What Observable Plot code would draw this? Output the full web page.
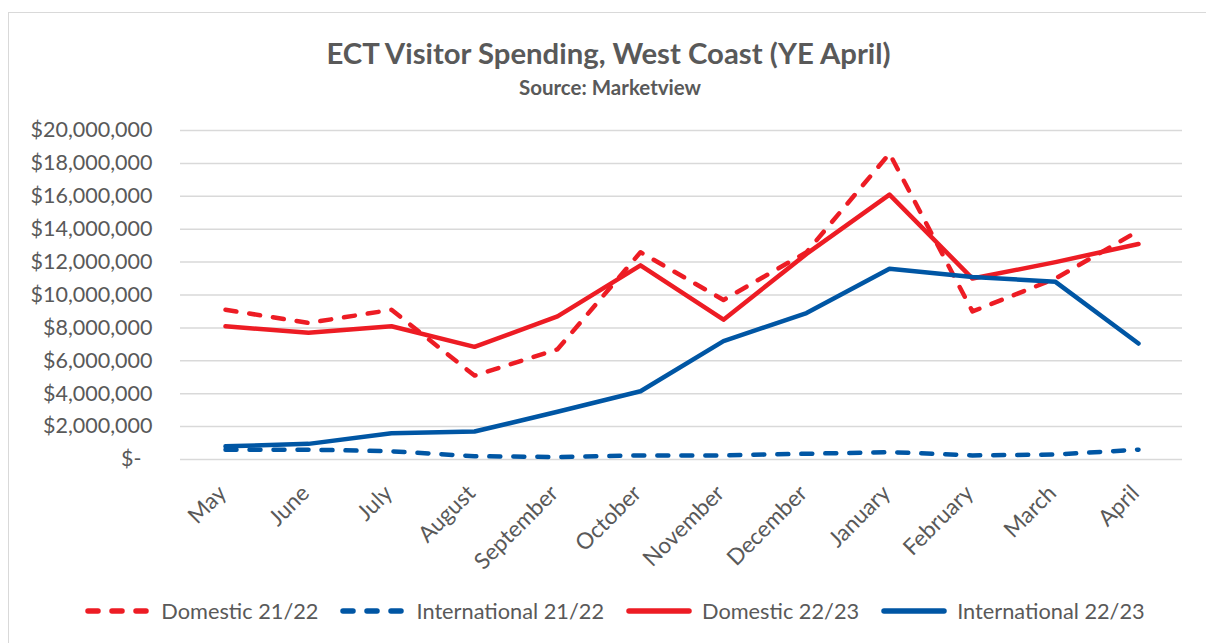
<!DOCTYPE html>
<html>
<head>
<meta charset="utf-8">
<script src="https://cdn.jsdelivr.net/npm/d3@7"></script>
<script src="https://cdn.jsdelivr.net/npm/@observablehq/plot@0.6"></script>
<style>
  html, body { margin: 0; padding: 0; background: #fff; }
  body { font-family: Lato, "Open Sans", sans-serif; color: #595959; }
  #page { position: relative; width: 1206px; height: 643px; overflow: hidden; }
  #frame { position: absolute; left: 8px; top: 12px; width: 1220px; height: 660px; border: 1.5px solid #d9d9d9; box-sizing: border-box; }
  #title { position: absolute; left: 0; top: 34px; width: 1217px; text-align: center; font-weight: 700; font-size: 29.3px; line-height: 38px; }
  #subtitle { position: absolute; left: 0; top: 75px; width: 1220px; text-align: center; font-weight: 700; font-size: 20.5px; line-height: 24px; }
  #chart { position: absolute; left: 0; top: 0; }
  #legend { position: absolute; left: 0; top: 596px; width: 1206px; display: flex; justify-content: center; align-items: center; font-size: 21.75px; line-height: 30px; padding-left: 24px; box-sizing: border-box; }
  .item { display: flex; align-items: center; margin: 0 11px; }
  .item svg { margin-right: 10px; }
</style>
</head>
<body>
<div id="page">
  <div id="frame"></div>
  <div id="title">ECT Visitor Spending, West Coast (YE April)</div>
  <div id="subtitle">Source: Marketview</div>
  <div id="chart"></div>
  <div id="legend"></div>
</div>
<script>
const months = ["May","June","July","August","September","October","November","December","January","February","March","April"];
const domestic2122 = [9100000, 8300000, 9100000, 5100000, 6700000, 12600000, 9700000, 12600000, 18600000, 9000000, 11000000, 13900000];
const international2122 = [600000, 600000, 500000, 200000, 150000, 250000, 250000, 350000, 450000, 250000, 300000, 600000];
const domestic2223 = [8100000, 7700000, 8100000, 6850000, 8700000, 11800000, 8500000, 12500000, 16100000, 11000000, 12000000, 13100000];
const international2223 = [800000, 950000, 1600000, 1700000, 2900000, 4150000, 7200000, 8900000, 11600000, 11100000, 10800000, 7050000];
const seriesNames = ["Domestic 21/22", "International 21/22", "Domestic 22/23", "International 22/23"];
const yTicks = [0, 2000000, 4000000, 6000000, 8000000, 10000000, 12000000, 14000000, 16000000, 18000000, 20000000];

const RED = "#ED1C24", BLUE = "#0056A4", DASH = "11,13";
const series = [
  {name: seriesNames[0], values: domestic2122, color: RED, dash: DASH},
  {name: seriesNames[1], values: international2122, color: BLUE, dash: DASH},
  {name: seriesNames[2], values: domestic2223, color: RED, dash: null},
  {name: seriesNames[3], values: international2223, color: BLUE, dash: null}
];
const fmt = d3.format(",");
const tickFormat = d => d === 0 ? "$-\u00a0\u00a0" : "$" + fmt(d);

const lineMarks = series.map(s => Plot.line(
  months.map((m, i) => ({month: m, value: s.values[i]})),
  {x: "month", y: "value", stroke: s.color, strokeWidth: 4.5, strokeDasharray: s.dash || undefined,
   strokeLinecap: "round", strokeLinejoin: "round"}
));

const chart = Plot.plot({
  width: 1206, height: 580,
  marginTop: 130, marginBottom: 121, marginLeft: 180, marginRight: 24,
  style: {fontFamily: "Lato, 'Open Sans', sans-serif", color: "#595959", background: "transparent"},
  x: {type: "point", domain: months, padding: 0.5, label: null},
  y: {domain: [0, 20000000], label: null},
  marks: [
    Plot.gridY(yTicks, {stroke: "#d9d9d9", strokeOpacity: 1, strokeWidth: 1.5}),
    Plot.axisY(yTicks, {tickSize: 0, tickPadding: 28, tickFormat, fontSize: 21.5, label: null}),
    Plot.axisX(months, {tickSize: 0, tickRotate: -45, tickPadding: 30, dx: -3, fontSize: 22.5, label: null}),
    ...lineMarks
  ]
});
document.getElementById("chart").appendChild(chart);

const legend = document.getElementById("legend");
series.forEach(s => {
  const item = document.createElement("div");
  item.className = "item";
  const ns = "http://www.w3.org/2000/svg";
  const svg = document.createElementNS(ns, "svg");
  svg.setAttribute("width", 66); svg.setAttribute("height", 12);
  const ln = document.createElementNS(ns, "line");
  ln.setAttribute("x1", 3); ln.setAttribute("x2", 63); ln.setAttribute("y1", 6); ln.setAttribute("y2", 6);
  ln.setAttribute("stroke", s.color); ln.setAttribute("stroke-width", 5.5);
  ln.setAttribute("stroke-linecap", "round");
  if (s.dash) ln.setAttribute("stroke-dasharray", "10,14");
  svg.appendChild(ln);
  const label = document.createElement("span");
  label.textContent = s.name;
  item.appendChild(svg); item.appendChild(label);
  legend.appendChild(item);
});
</script>
</body>
</html>
